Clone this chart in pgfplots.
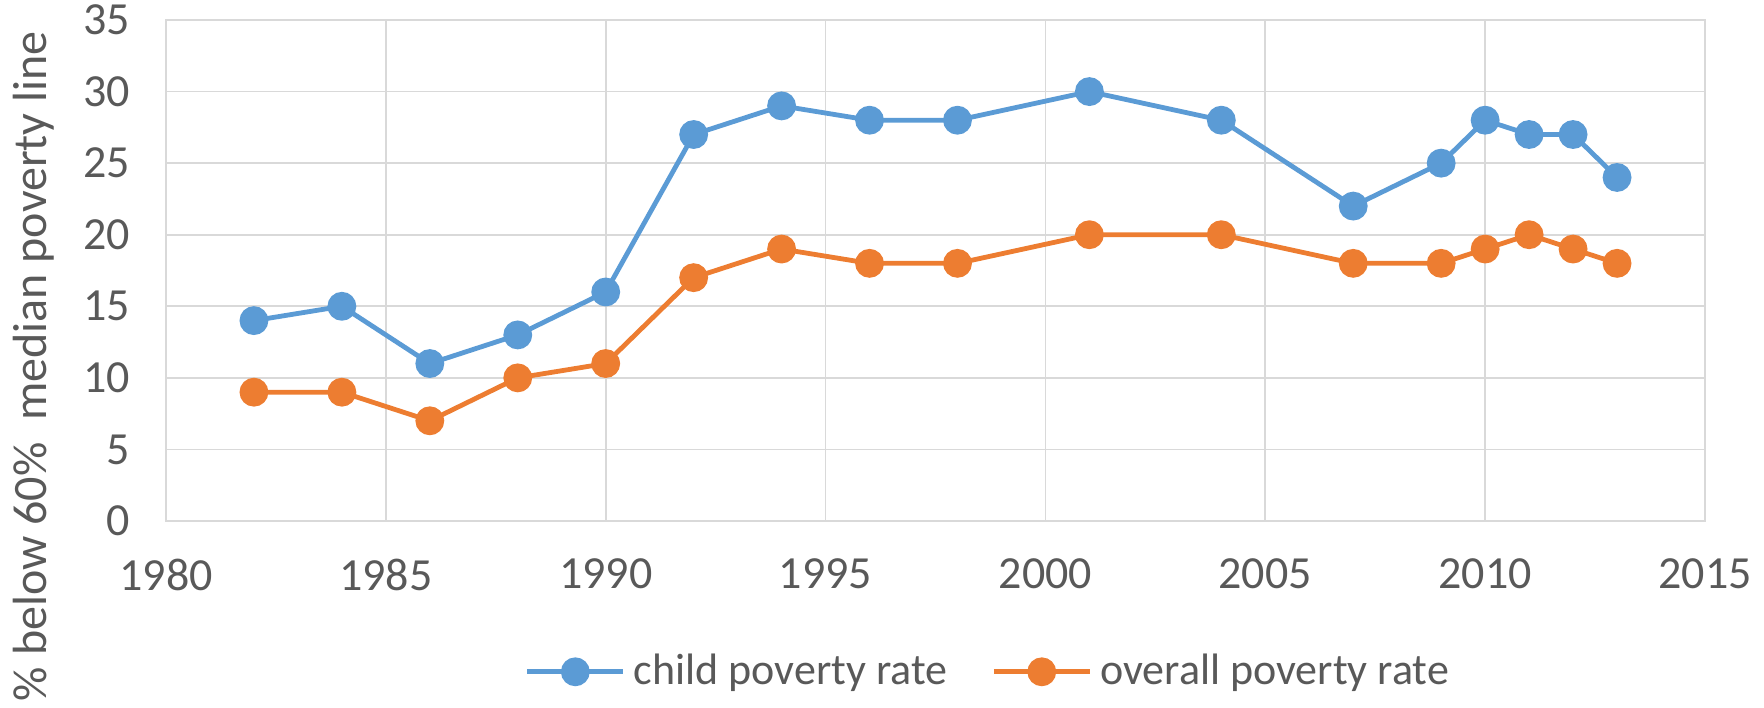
\documentclass[border=0pt]{standalone}
\usepackage{fontspec}
\setmainfont{Carlito}
\usepackage{pgfplots}
\pgfplotsset{compat=1.18}
\definecolor{cblue}{HTML}{5B9BD5}
\definecolor{corange}{HTML}{ED7D31}
\definecolor{gridc}{HTML}{D9D9D9}
\definecolor{txt}{HTML}{595959}
\begin{document}
\begin{tikzpicture}
\useasboundingbox (-41.5pt,-46.5pt) rectangle (399.5pt,130.25pt);
\begin{axis}[
  at={(0,0)}, anchor=south west,
  scale only axis, width=384.75pt, height=125.25pt,
  xmin=1980, xmax=2015, ymin=0, ymax=35,
  xtick={1980,1985,...,2015}, ytick={0,5,...,35},
  xticklabel style={/pgf/number format/1000 sep={}},
  /pgf/number format/assume math mode=true,
  tick label style={text=txt, font=\fontsize{11.5}{13}\selectfont},
  grid=major,
  major grid style={gridc, line width=0.45pt},
  axis line style={gridc, line width=0.45pt},
  major tick length=0pt,
  xticklabel style={yshift=-6pt},
  yticklabel style={xshift=-5.5pt},
  ylabel={\% below 60\% \ median poverty line},
  ylabel style={at={(axis description cs:-0.0858,0.309)}, anchor=center, text=txt, font=\fontsize{12}{14}\selectfont},
  legend style={at={(axis description cs:0.536,-0.301)}, anchor=center, draw=none, fill=none,
    legend columns=2, text=txt, font=\fontsize{11}{13}\selectfont,
    /tikz/every even column/.append style={column sep=9pt}},
  legend image code/.code={\draw[#1, line width=1.2pt] (0pt,0pt) -- (24pt,0pt); \fill[#1] (12pt,0pt) circle (3pt);},
]
\addplot[cblue, line width=1.2pt, mark=*, mark size=3pt, mark options={fill=cblue, draw=cblue}] coordinates {
(1982,14)(1984,15)(1986,11)(1988,13)(1990,16)(1992,27)(1994,29)(1996,28)(1998,28)(2001,30)(2004,28)(2007,22)(2009,25)(2010,28)(2011,27)(2012,27)(2013,24)};
\addlegendentry{child poverty rate}
\addplot[corange, line width=1.2pt, mark=*, mark size=3pt, mark options={fill=corange, draw=corange}] coordinates {
(1982,9)(1984,9)(1986,7)(1988,10)(1990,11)(1992,17)(1994,19)(1996,18)(1998,18)(2001,20)(2004,20)(2007,18)(2009,18)(2010,19)(2011,20)(2012,19)(2013,18)};
\addlegendentry{overall poverty rate}
\end{axis}
\end{tikzpicture}
\end{document}
